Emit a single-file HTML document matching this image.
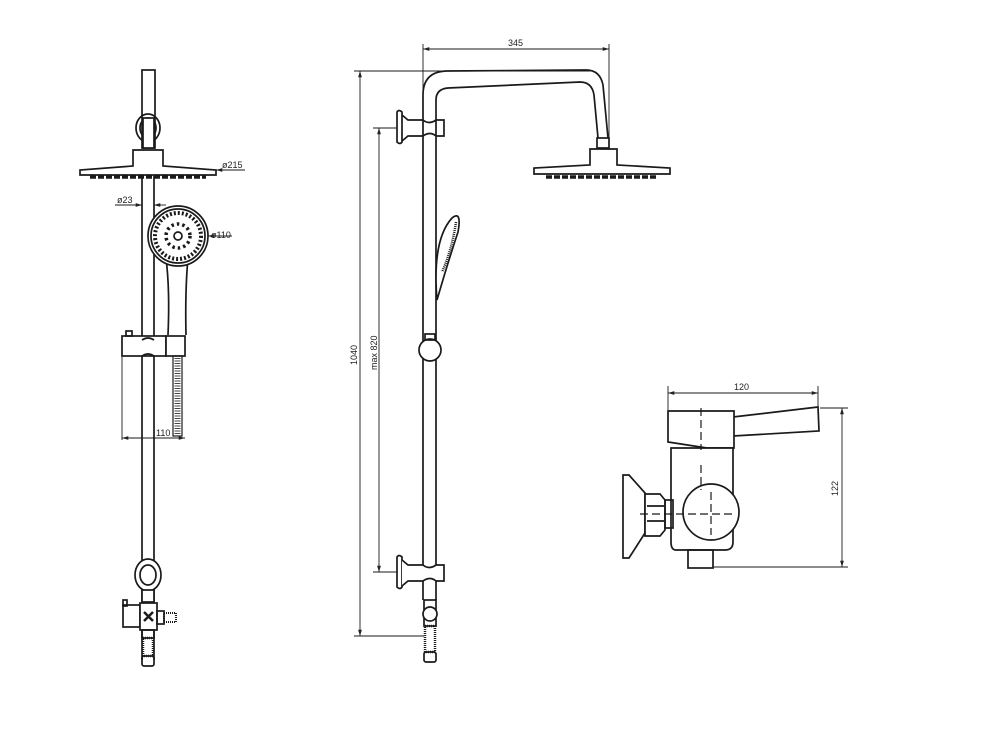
<!DOCTYPE html>
<html><head><meta charset="utf-8"><style>
html,body{margin:0;padding:0;background:#fff;}
svg{display:block}
text{font-family:"Liberation Sans",sans-serif;fill:#222;font-size:9px}
</style></head><body>
<svg width="1000" height="751" viewBox="0 0 1000 751" xmlns="http://www.w3.org/2000/svg">
<defs>
<marker id="a" viewBox="0 0 10 10" refX="10" refY="5" markerWidth="7" markerHeight="7" orient="auto-start-reverse"><path d="M0,2 L10,5 L0,8 z" fill="#222"/></marker>
</defs>
<g fill="none" stroke="#1a1a1a" stroke-width="1.7">
<!-- LEFT VIEW -->
<rect x="142" y="70" width="13" height="78" fill="#fff"/>
<ellipse cx="148" cy="128" rx="12" ry="14"/>
<ellipse cx="148" cy="128" rx="8" ry="10"/>
<rect x="143" y="118" width="11" height="30" fill="#fff"/>
<path d="M133,150 h30 v16 l53,4 v5 h-136 v-5 l53,-4 z" fill="#fff"/>
<path d="M90,177 h116" stroke-dasharray="6,2" stroke-width="3.5"/>
<line x1="142" y1="176" x2="142" y2="660"/>
<line x1="154" y1="176" x2="154" y2="660"/>
<!-- hand shower -->
<path d="M166,258 Q170,290 168,335 M188,258 Q185,290 186,335"/>
<circle cx="178" cy="236" r="30" fill="#fff"/>
<circle cx="178" cy="236" r="27"/>
<circle cx="178" cy="236" r="23" stroke-dasharray="2,2" stroke-width="4"/>
<circle cx="178" cy="236" r="12" stroke-dasharray="2.5,3" stroke-width="3.5"/>
<circle cx="178" cy="236" r="4"/>
<!-- clamp -->
<rect x="122" y="336" width="44" height="20" fill="#fff"/>
<rect x="166" y="336" width="19" height="20" fill="#fff"/>
<rect x="126" y="331" width="6" height="5"/>
<path d="M142,340 q6,-4 12,0 M142,356 q6,-4 12,0"/>
<line x1="122" y1="356" x2="122" y2="440" stroke-width="0.9"/>
<rect x="173" y="356" width="9" height="80" stroke-width="1.2"/>
<line x1="177.5" y1="358" x2="177.5" y2="434" stroke-dasharray="1,1.5" stroke-width="6" stroke="#444"/>
<!-- lower ring -->
<ellipse cx="148" cy="575" rx="13" ry="16" fill="#fff"/>
<ellipse cx="148" cy="575" rx="8" ry="10"/>
<rect x="142" y="590" width="12" height="12" fill="#fff"/>
<!-- valve -->
<rect x="123" y="605" width="17" height="22" fill="#fff"/>
<rect x="123" y="600" width="4" height="6"/>
<rect x="140" y="603" width="17" height="27" fill="#fff"/>
<path d="M144,612 l9,9 M153,612 l-9,9" stroke-width="2.5"/>
<rect x="157" y="611" width="7" height="13"/>
<rect x="164" y="613" width="12" height="9" stroke-dasharray="1,1" stroke-width="2"/>
<rect x="142" y="630" width="12" height="8"/>
<rect x="143" y="638" width="10" height="18" stroke-dasharray="1,1" stroke-width="2.5"/>
<rect x="142" y="656" width="12" height="10" rx="2"/>
<!-- left dims -->
<line x1="216" y1="170" x2="245" y2="170" stroke-width="0.9" marker-start="url(#a)"/>
<line x1="115" y1="205" x2="142" y2="205" stroke-width="0.9" marker-end="url(#a)"/>
<line x1="166" y1="205" x2="154" y2="205" stroke-width="0.9" marker-end="url(#a)"/>
<line x1="208" y1="236" x2="232" y2="236" stroke-width="0.9" marker-start="url(#a)"/>
<line x1="122" y1="438" x2="185" y2="438" stroke-width="0.9" marker-start="url(#a)" marker-end="url(#a)"/>

<!-- MIDDLE VIEW -->
<path d="M423,110 L423,95 Q423,72 446,71 L586,70 Q600,70 603,85 L608,138" fill="#fff"/>
<path d="M436,110 L436,100 Q436,89 448,88 L580,82 Q592,82 594,95 L598,138"/>
<rect x="597" y="138" width="12" height="10" fill="#fff"/>
<path d="M590,149 h27 v16 l53,3 v6 h-136 v-6 l56,-3 z" fill="#fff"/>
<path d="M546,177 h112" stroke-dasharray="6,2" stroke-width="3.5"/>
<line x1="423" y1="110" x2="423" y2="600"/>
<line x1="436" y1="110" x2="436" y2="600"/>
<!-- top bracket -->
<path d="M397,112 q2,-3 5,0 v30 q-2,3 -5,0 z"/>
<path d="M402,115 l6,5 h15 q6,5 13,0 h8 v16 h-8 q-6,-5 -13,0 h-15 l-6,5"/>
<!-- handshower side -->
<path d="M437,300 Q432,240 452,218 Q462,210 458,232 Q448,262 437,300" fill="#fff"/>
<path d="M456,222 Q452,250 442,272" stroke-dasharray="1,1" stroke-width="2.5"/>
<circle cx="430" cy="350" r="11" fill="#fff"/>
<rect x="425" y="334" width="10" height="6"/>
<!-- lower bracket -->
<path d="M397,557 q2,-3 5,0 v30 q-2,3 -5,0 z"/>
<path d="M402,560 l6,5 h15 q6,5 13,0 h8 v16 h-8 q-6,-5 -13,0 h-15 l-6,5" fill="#fff"/>
<rect x="424" y="600" width="12" height="26" fill="#fff"/>
<circle cx="430" cy="614" r="7" fill="#fff"/>
<rect x="425" y="626" width="10" height="26" stroke-dasharray="1,1" stroke-width="2.5"/>
<rect x="424" y="652" width="12" height="10" rx="2"/>
<!-- middle dims -->
<line x1="423" y1="44" x2="423" y2="100" stroke-width="0.9"/>
<line x1="609" y1="44" x2="609" y2="138" stroke-width="0.9"/>
<line x1="423" y1="49" x2="609" y2="49" stroke-width="0.9" marker-start="url(#a)" marker-end="url(#a)"/>
<line x1="354" y1="71" x2="590" y2="71" stroke-width="0.9"/>
<line x1="360" y1="71" x2="360" y2="636" stroke-width="0.9" marker-start="url(#a)" marker-end="url(#a)"/>
<line x1="354" y1="636" x2="424" y2="636" stroke-width="0.9"/>
<line x1="373" y1="128" x2="397" y2="128" stroke-width="0.9"/>
<line x1="379" y1="128" x2="379" y2="572" stroke-width="0.9" marker-start="url(#a)" marker-end="url(#a)"/>
<line x1="373" y1="572" x2="397" y2="572" stroke-width="0.9"/>

<!-- RIGHT VIEW -->
<path d="M733,417 L818,407 L819,431 L733,436"/>
<path d="M668,411 h66 v37 h-27 l-39,-6 z" fill="#fff"/>
<path d="M671,448 h62 v94 q0,8 -8,8 h-49 q-5,0 -5,-8 z" fill="#fff"/>
<rect x="688" y="550" width="25" height="18"/>
<path d="M623,475 h6 l16,18 v40 l-16,25 h-6 z" fill="#fff"/>
<path d="M645,494 h15 l5,6 v30 l-5,6 h-15 z" fill="#fff"/>
<line x1="647" y1="506" x2="664" y2="506"/><line x1="647" y1="521" x2="664" y2="521"/>
<rect x="665" y="500" width="8" height="28"/>
<circle cx="711" cy="512" r="28" fill="#fff"/>
<g stroke-dasharray="8,4" stroke-width="1.2">
<line x1="701" y1="408" x2="701" y2="450"/>
<line x1="701" y1="465" x2="701" y2="490"/>
<line x1="711" y1="492" x2="711" y2="535"/>
<line x1="640" y1="514" x2="736" y2="514"/>
</g>
<!-- right dims -->
<line x1="668" y1="386" x2="668" y2="410" stroke-width="0.9"/>
<line x1="818" y1="386" x2="818" y2="406" stroke-width="0.9"/>
<line x1="668" y1="393" x2="818" y2="393" stroke-width="0.9" marker-start="url(#a)" marker-end="url(#a)"/>
<line x1="820" y1="408" x2="848" y2="408" stroke-width="0.9"/>
<line x1="713" y1="567" x2="848" y2="567" stroke-width="0.9"/>
<line x1="842" y1="408" x2="842" y2="567" stroke-width="0.9" marker-start="url(#a)" marker-end="url(#a)"/>
</g>
<text x="222" y="168">ø215</text>
<text x="117" y="203">ø23</text>
<text x="211" y="238">ø110</text>
<text x="156" y="436">110</text>
<text x="508" y="46">345</text>
<text transform="translate(357,365) rotate(-90)">1040</text>
<text transform="translate(377,370) rotate(-90)">max 820</text>
<text x="734" y="390">120</text>
<text transform="translate(838,496) rotate(-90)">122</text>
</svg>
</body></html>
